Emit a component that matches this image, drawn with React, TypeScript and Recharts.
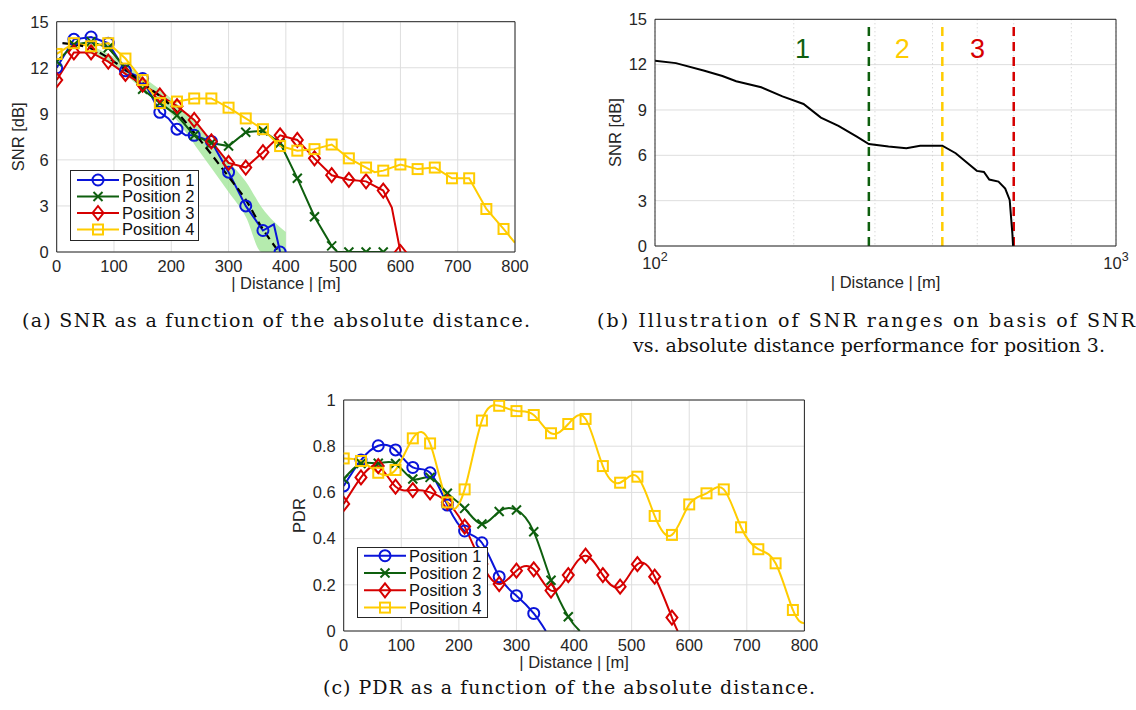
import React from 'react';
import {
  ComposedChart,
  Line,
  Area,
  XAxis,
  YAxis,
  CartesianGrid,
  ReferenceLine,
  ReferenceDot,
} from 'recharts';

const INK = '#262626';
const GRID = '#dedede';
const SANS = '"Liberation Sans", Arial, Helvetica, sans-serif';
const SERIF = '"DejaVu Serif", "Liberation Serif", serif';
const BLUE = '#0a14d9';
const GREEN = '#0e5f0e';
const RED = '#d60000';
const YELLOW = '#ffcc00';

const seriesNames = ['Position 1', 'Position 2', 'Position 3', 'Position 4'];
const seriesColors = [BLUE, GREEN, RED, YELLOW];
const seriesShapes = ['circle', 'cross', 'diamond', 'square'];

const distTicks = [0, 100, 200, 300, 400, 500, 600, 700, 800];
const snrTicks = [0, 3, 6, 9, 12, 15];
const pdrTicks = [0, 0.2, 0.4, 0.6, 0.8, 1];
const logTicks = [100, 200, 300, 400, 500, 600, 700, 800, 900, 1000];

// (a) SNR [dB] over |distance| [m], pairs of [distance, value]
const snrPos1 = [[0, 12.0], [30, 13.85], [60, 14.0], [90, 13.6], [120, 11.8], [150, 11.3], [180, 9.1], [195, 8.7], [210, 8.0], [225, 7.6], [240, 7.6], [270, 7.2], [300, 5.2], [330, 3.0], [360, 1.4], [379, 1.8], [390, 0]];
const snrPos2 = [[0, 12.4], [30, 13.5], [60, 13.7], [90, 13.3], [120, 12.0], [150, 10.6], [180, 9.7], [210, 8.9], [240, 7.6], [270, 7.1], [300, 6.9], [330, 7.8], [360, 7.9], [390, 7.1], [420, 4.8], [450, 2.3], [480, 0.4], [490, 0], [510, 0], [540, 0], [570, 0]];
const snrPos3 = [[0, 11.2], [30, 13.0], [60, 13.0], [90, 12.4], [120, 11.6], [150, 10.9], [180, 10.2], [210, 9.5], [240, 8.6], [270, 7.2], [300, 5.8], [330, 5.5], [360, 6.5], [390, 7.6], [420, 7.3], [450, 6.1], [480, 5.0], [510, 4.7], [540, 4.6], [570, 4.0], [585, 2.9], [600, 0]];
const snrPos4 = [[0, 12.9], [30, 13.6], [60, 13.4], [90, 13.6], [120, 12.6], [150, 11.2], [180, 9.7], [210, 9.8], [240, 10.0], [270, 10.0], [300, 9.4], [330, 8.7], [360, 8.0], [390, 6.9], [420, 6.6], [450, 6.7], [480, 7.0], [510, 6.1], [540, 5.5], [555, 5.2], [570, 5.3], [600, 5.7], [630, 5.4], [660, 5.5], [690, 4.8], [720, 4.8], [750, 2.8], [780, 1.5], [800, 0.6]];
const snrFit = [[10, 13.6], [60, 13.25], [100, 12.4], [150, 11.0], [200, 9.5], [250, 7.3], [300, 4.9], [330, 3.4], [358, 1.6], [388, 0]];
const bandDist = [60, 100, 150, 200, 250, 300, 330, 358, 400];
const bandLo = [13.05, 12.1, 10.6, 9.0, 6.5, 3.9, 2.3, 0, 0];
const bandHi = [13.45, 12.7, 11.4, 10.0, 8.1, 5.9, 4.6, 2.9, 1.3];

// (b) SNR of position 3 on a log distance axis
const snrLogPos3 = [[100, 12.25], [111, 12.1], [128, 11.6], [140, 11.25], [150, 10.9], [170, 10.5], [189, 9.9], [210, 9.4], [229, 8.5], [250, 7.95], [274, 7.24], [291, 6.75], [321, 6.58], [351, 6.47], [376, 6.64], [420, 6.64], [449, 6.14], [499, 4.97], [517, 4.9], [531, 4.4], [556, 4.26], [575, 3.8], [588, 3.05], [596, 0.8], [598, 0]];
const rangeBounds = [291, 420, 600];
const rangeLabels = ['1', '2', '3'];
const rangeLabelDist = [209, 344, 501];
const rangeColors = [GREEN, YELLOW, RED];

// (c) PDR over |distance| [m]
const pdrPos1 = [[0, 0.628], [30, 0.74], [60, 0.802], [90, 0.784], [120, 0.708], [150, 0.685], [180, 0.545], [210, 0.433], [240, 0.382], [270, 0.235], [300, 0.153], [330, 0.076], [351, 0]];
const pdrPos2 = [[0, 0.658], [30, 0.725], [60, 0.726], [90, 0.725], [120, 0.658], [150, 0.665], [180, 0.596], [210, 0.531], [240, 0.463], [270, 0.517], [300, 0.524], [330, 0.43], [360, 0.22], [390, 0.062], [410, 0]];
const pdrPos3 = [[0, 0.55], [30, 0.665], [60, 0.714], [90, 0.625], [120, 0.61], [150, 0.6], [180, 0.557], [210, 0.452], [240, 0.29], [270, 0.203], [300, 0.261], [330, 0.267], [360, 0.175], [390, 0.242], [420, 0.326], [450, 0.242], [480, 0.192], [510, 0.289], [540, 0.235], [570, 0.058], [580, 0]];
const pdrPos4 = [[0, 0.747], [30, 0.736], [60, 0.685], [90, 0.697], [120, 0.834], [150, 0.812], [180, 0.557], [210, 0.613], [240, 0.911], [270, 0.975], [300, 0.952], [330, 0.935], [360, 0.856], [390, 0.896], [420, 0.918], [450, 0.714], [480, 0.642], [510, 0.668], [540, 0.498], [570, 0.416], [600, 0.548], [630, 0.596], [660, 0.613], [690, 0.449], [720, 0.354], [750, 0.293], [780, 0.091], [800, 0.033]];

const pts = (a: number[][]) => a.map(([d, v]) => ({ d, v }));
const bandData = bandDist.map((d, i) => ({ d, r: [bandLo[i], bandHi[i]] }));

function Marker({ shape, x, y, color }: any) {
  const sw = 2;
  if (shape === 'circle') return <circle cx={x} cy={y} r={5.5} fill="none" stroke={color} strokeWidth={sw} />;
  if (shape === 'cross')
    return (
      <g stroke={color} strokeWidth={sw}>
        <line x1={x - 4.5} y1={y - 4.5} x2={x + 4.5} y2={y + 4.5} />
        <line x1={x - 4.5} y1={y + 4.5} x2={x + 4.5} y2={y - 4.5} />
      </g>
    );
  if (shape === 'diamond')
    return (
      <polygon
        points={`${x},${y - 7} ${x + 5.5},${y} ${x},${y + 7} ${x - 5.5},${y}`}
        fill="none"
        stroke={color}
        strokeWidth={sw}
      />
    );
  return <rect x={x - 5} y={y - 5} width={10} height={10} fill="none" stroke={color} strokeWidth={sw} />;
}

// markers sit on the 30 m measurement grid only
const markerDot = (shape: string, color: string) => (p: any) => {
  const k = `${shape}-${p.index}`;
  if (p.payload.d % 30 !== 0 || p.cx == null) return <g key={k} />;
  return (
    <g key={k}>
      <Marker shape={shape} x={p.cx} y={p.cy} color={color} />
    </g>
  );
};

function LegendBox({ left, top, width, height, y0, gap }: any) {
  return (
    <svg style={{ position: 'absolute', left, top }} width={width} height={height}>
      <rect x={0.5} y={0.5} width={width - 1} height={height - 1} fill="#fff" stroke={INK} />
      {seriesNames.map((name, i) => {
        const cy = y0 + i * gap;
        return (
          <g key={name}>
            <line x1={7} x2={49} y1={cy} y2={cy} stroke={seriesColors[i]} strokeWidth={2} />
            <Marker shape={seriesShapes[i]} x={28} y={cy} color={seriesColors[i]} />
            <text x={52} y={cy} dy="0.36em" fill="#111" fontSize={16.5} fontFamily={SANS}>
              {name}
            </text>
          </g>
        );
      })}
    </svg>
  );
}

const tickStyle = { fill: INK, fontSize: 16.5, fontFamily: SANS };
const labelStyle = { fill: INK, fontSize: 16.5, fontFamily: SANS };

function PowTick({ x, y, payload }: any) {
  const v = payload.value;
  if (v !== 100 && v !== 1000) return <g />;
  return (
    <text x={x} y={y + 15} textAnchor="middle" fill={INK} fontSize={16.5} fontFamily={SANS}>
      10
      <tspan dy={-8} fontSize={12.5}>
        {Math.round(Math.log10(v))}
      </tspan>
    </text>
  );
}

function SnrChart() {
  const lines = [snrPos1, snrPos2, snrPos3, snrPos4];
  return (
    <ComposedChart width={540} height={300} margin={{ top: 21.7, right: 25, bottom: 0, left: 0 }}>
      <CartesianGrid stroke={GRID} />
      <XAxis
        dataKey="d"
        type="number"
        domain={[0, 800]}
        ticks={distTicks}
        allowDataOverflow
        height={48}
        stroke={INK}
        tickLine={false}
        tick={tickStyle}
        label={{ value: '| Distance | [m]', position: 'insideBottom', offset: 11, style: labelStyle }}
      />
      <YAxis
        type="number"
        domain={[0, 15]}
        ticks={snrTicks}
        allowDataOverflow
        width={56.7}
        stroke={INK}
        tickLine={false}
        tick={tickStyle}
        label={{ value: 'SNR [dB]', angle: -90, position: 'insideLeft', offset: 18, style: { ...labelStyle, textAnchor: 'middle' } }}
      />
      <Area
        data={bandData}
        dataKey="r"
        type="monotone"
        stroke="none"
        fill="#a3e69a"
        fillOpacity={0.8}
        isAnimationActive={false}
      />
      {lines.map((l, i) => (
        <Line
          key={seriesNames[i]}
          data={pts(l)}
          dataKey="v"
          type="linear"
          stroke={seriesColors[i]}
          strokeWidth={2}
          dot={markerDot(seriesShapes[i], seriesColors[i])}
          isAnimationActive={false}
        />
      ))}
      <Line
        data={pts(snrFit)}
        dataKey="v"
        type="monotone"
        stroke="#000"
        strokeWidth={2.2}
        strokeDasharray="8 5"
        dot={false}
        isAnimationActive={false}
      />
      <ReferenceLine y={15} stroke={INK} />
      <ReferenceLine x={800} stroke={INK} />
    </ComposedChart>
  );
}

function LogChart() {
  return (
    <ComposedChart width={556} height={300} margin={{ top: 19.3, right: 20, bottom: 0, left: 0 }}>
      <CartesianGrid stroke={GRID} vertical={false} />
      <CartesianGrid stroke="#c8c8c8" strokeDasharray="1 3" horizontal={false} />
      <XAxis
        dataKey="d"
        type="number"
        scale="log"
        domain={[100, 1000]}
        ticks={logTicks}
        allowDataOverflow
        height={54}
        stroke={INK}
        tickLine={false}
        tick={<PowTick />}
        label={{ value: '| Distance | [m]', position: 'insideBottom', offset: 12, style: labelStyle }}
      />
      <YAxis
        type="number"
        domain={[0, 15]}
        ticks={snrTicks}
        allowDataOverflow
        width={75}
        stroke={INK}
        tickLine={false}
        tick={tickStyle}
        label={{ value: 'SNR [dB]', angle: -90, position: 'insideLeft', offset: 35, style: { ...labelStyle, textAnchor: 'middle' } }}
      />
      {rangeBounds.map((b, i) => (
        <ReferenceLine
          key={b}
          segment={[{ x: b, y: 0 }, { x: b, y: 14.5 }]}
          stroke={rangeColors[i]}
          strokeWidth={2.5}
          strokeDasharray="9 6"
        />
      ))}
      <Line
        data={pts(snrLogPos3)}
        dataKey="v"
        type="linear"
        stroke="#000"
        strokeWidth={2}
        dot={false}
        isAnimationActive={false}
      />
      {rangeLabels.map((t, i) => (
        <ReferenceDot
          key={t}
          x={rangeLabelDist[i]}
          y={13.1}
          r={0}
          stroke="none"
          fill="none"
          label={{ value: t, position: 'center', fill: rangeColors[i], fontSize: 27, fontFamily: SANS }}
        />
      ))}
      <ReferenceLine y={15} stroke={INK} />
      <ReferenceLine x={1000} stroke={INK} />
    </ComposedChart>
  );
}

function PdrChart() {
  const lines = [pdrPos1, pdrPos2, pdrPos3, pdrPos4];
  return (
    <ComposedChart width={540} height={300} margin={{ top: 20, right: 15.6, bottom: 0, left: 0 }}>
      <CartesianGrid stroke={GRID} />
      <XAxis
        dataKey="d"
        type="number"
        domain={[0, 800]}
        ticks={distTicks}
        allowDataOverflow
        height={49}
        stroke={INK}
        tickLine={false}
        tick={tickStyle}
        label={{ value: '| Distance | [m]', position: 'insideBottom', offset: 12, style: labelStyle }}
      />
      <YAxis
        type="number"
        domain={[0, 1]}
        ticks={pdrTicks}
        allowDataOverflow
        width={63.7}
        stroke={INK}
        tickLine={false}
        tick={tickStyle}
        label={{ value: 'PDR', angle: -90, position: 'insideLeft', offset: 19, style: { ...labelStyle, textAnchor: 'middle' } }}
      />
      {lines.map((l, i) => (
        <Line
          key={seriesNames[i]}
          data={pts(l)}
          dataKey="v"
          type="natural"
          stroke={seriesColors[i]}
          strokeWidth={2}
          dot={markerDot(seriesShapes[i], seriesColors[i])}
          isAnimationActive={false}
        />
      ))}
      <ReferenceLine y={1} stroke={INK} />
      <ReferenceLine x={800} stroke={INK} />
    </ComposedChart>
  );
}

function Caption({ x, y, w, children }: any) {
  return (
    <text x={x} y={y} textLength={w} lengthAdjust="spacing" fill="#111" fontSize={19} fontFamily={SERIF}>
      {children}
    </text>
  );
}

export default function App() {
  return (
    <div style={{ position: 'absolute', left: 0, top: 0, width: 1136, height: 710, background: '#fff' }}>
      <div style={{ position: 'absolute', left: 0, top: 0 }}>
        <SnrChart />
      </div>
      <LegendBox left={70} top={170} width={129} height={71} y0={10} gap={16.5} />
      <div style={{ position: 'absolute', left: 580, top: 0 }}>
        <LogChart />
      </div>
      <div style={{ position: 'absolute', left: 280, top: 380 }}>
        <PdrChart />
      </div>
      <LegendBox left={356.7} top={547.3} width={131} height={71} y0={8.7} gap={17.3} />
      <svg style={{ position: 'absolute', left: 0, top: 0, pointerEvents: 'none' }} width={1136} height={710}>
        <Caption x={22} y={327} w={508}>(a) SNR as a function of the absolute distance.</Caption>
        <Caption x={597} y={327} w={538}>(b) Illustration of SNR ranges on basis of SNR</Caption>
        <Caption x={633} y={352} w={472}>vs. absolute distance performance for position 3.</Caption>
        <Caption x={323} y={694} w={492}>(c) PDR as a function of the absolute distance.</Caption>
      </svg>
    </div>
  );
}
